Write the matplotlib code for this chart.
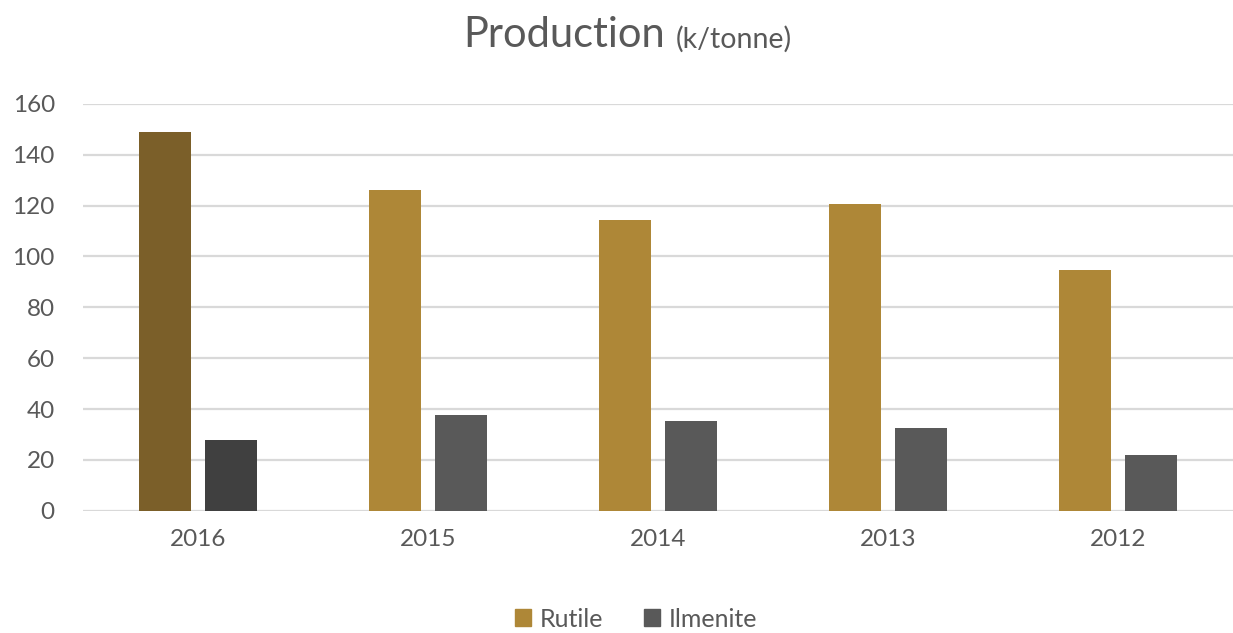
import matplotlib.pyplot as plt
import numpy as np
from matplotlib.patches import Patch

plt.rcParams['font.family'] = ['Lato', 'DejaVu Sans']

years = ['2016', '2015', '2014', '2013', '2012']
rutile = [149, 126, 114.5, 120.5, 94.5]
ilmenite = [28, 37.5, 35.5, 32.5, 22]

rutile_colors = ['#7B5F29'] + ['#AE8737'] * 4
ilmenite_colors = ['#404040'] + ['#595959'] * 4
text_col = '#595959'

fig = plt.figure(figsize=(12.33, 6.33), dpi=100)
ax = fig.add_axes([0.067, 0.193, 0.933, 0.643])

x = np.arange(len(years))
w = 0.226
ax.bar(x - 0.143, rutile, w, color=rutile_colors, label='Rutile', zorder=3)
ax.bar(x + 0.143, ilmenite, w, color=ilmenite_colors, label='Ilmenite', zorder=3)

ax.set_xlim(-0.5, len(years) - 0.5)
ax.set_ylim(0, 160)
ax.set_yticks(range(0, 161, 20))
ax.set_xticks(x)
ax.set_xticklabels(years)
ax.tick_params(length=0, labelsize=17.5, colors=text_col)
ax.tick_params(axis='x', pad=13)
ax.tick_params(axis='y', pad=20)
ax.grid(axis='y', color='#D9D9D9', linewidth=1.6, zorder=0)
for s in ax.spines.values():
    s.set_visible(False)

fig.text(0.5395, 0.945, 'Production', fontsize=30, color=text_col, ha='right', va='center')
fig.text(0.548, 0.938, '(k/tonne)', fontsize=20.5, color=text_col, ha='left', va='center')

# legend uses plain colours
handles = [Patch(color='#AE8737'), Patch(color='#595959')]
fig.legend(handles, ['Rutile', 'Ilmenite'], loc='center', bbox_to_anchor=(0.516, 0.022),
           ncol=2, frameon=False, fontsize=18, labelcolor=text_col,
           handlelength=0.65, handleheight=0.65, handletextpad=0.35, columnspacing=1.6)

fig.savefig('out.png', dpi=100)
